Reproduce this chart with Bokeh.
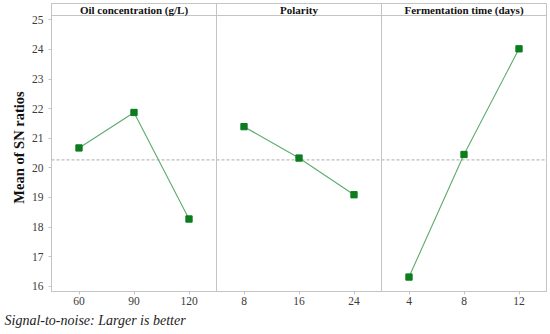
from bokeh.plotting import figure
from bokeh.models import Span, Label, FixedTicker, Range1d, ColumnDataSource, Title
from bokeh.embed import file_html
from bokeh.resources import INLINE

# ---- data ----
factors = ["Oil concentration (g/L)", "Polarity", "Fermentation time (days)"]
oil_levels = ["60", "90", "120"]
oil_sn = [20.67, 21.87, 18.27]
pol_levels = ["8", "16", "24"]
pol_sn = [21.39, 20.33, 19.09]
ferm_levels = ["4", "8", "12"]
ferm_sn = [16.31, 20.45, 24.02]
y_ticks = [16, 17, 18, 19, 20, 21, 22, 23, 24, 25]
footer = "Signal-to-noise: Larger is better"

all_levels = [oil_levels, pol_levels, ferm_levels]
all_sn = [oil_sn, pol_sn, ferm_sn]
grand_mean = sum(sum(s) for s in all_sn) / sum(len(s) for s in all_sn)

SERIF = "Liberation Serif"
MARK = "#0b7d1e"
LINE = "#5dab6c"
GRID = "#c4c4c4"

p = figure(width=550, height=334, output_backend="svg", toolbar_location=None,
           x_range=Range1d(-0.5, 8.5), y_range=Range1d(15.821, 25.551),
           min_border_left=51, min_border_right=4, min_border_top=3, min_border_bottom=43)
p.xgrid.visible = False
p.ygrid.visible = False
p.outline_line_color = GRID
p.outline_line_width = 1
p.background_fill_color = "white"
p.border_fill_color = "white"

overrides = {}
ticks = []
for i, (lv, sn) in enumerate(zip(all_levels, all_sn)):
    xs = [i * 3 + j for j in range(len(lv))]
    for x, l in zip(xs, lv):
        overrides[x] = l
        ticks.append(x)
    src = ColumnDataSource(dict(x=xs, y=sn))
    p.line("x", "y", source=src, line_color=LINE, line_width=1.1)
    p.scatter("x", "y", source=src, marker="square", size=6.3,
              fill_color=MARK, line_color=MARK)

# grand mean reference line
p.add_layout(Span(location=grand_mean, dimension="width", line_color="#ababab",
                  line_dash="3 2", line_width=1, level="underlay"))

# panel dividers
for b in [2.5, 5.5]:
    p.add_layout(Span(location=b, dimension="height", line_color=GRID, line_width=1))

# header strip line
p.add_layout(Span(location=25.145, dimension="width", line_color=GRID, line_width=1))

for i, f in enumerate(factors):
    p.add_layout(Label(x=i * 3 + 1, y=25.33, text=f, text_font=SERIF,
                       text_font_style="bold", text_font_size="11px",
                       text_align="center", text_baseline="middle",
                       text_color="#111111"))

p.xaxis.ticker = FixedTicker(ticks=ticks)
p.xaxis.major_label_overrides = overrides
p.yaxis.ticker = FixedTicker(ticks=y_ticks)
for ax in (p.xaxis, p.yaxis):
    ax.axis_line_color = GRID
    ax.major_tick_line_color = GRID
    ax.minor_tick_line_color = None
    ax.major_tick_in = 0
    ax.major_tick_out = 3
    ax.major_label_text_font = SERIF
    ax.major_label_text_font_size = "11.5px"
    ax.major_label_text_color = "#3a3a3a"
p.xaxis.major_label_standoff = 2
p.yaxis.major_label_standoff = 5

p.yaxis.axis_label = "Mean of SN ratios"
p.yaxis.axis_label_text_font = SERIF
p.yaxis.axis_label_text_font_style = "bold"
p.yaxis.axis_label_text_font_size = "14.5px"
p.yaxis.axis_label_text_color = "#111111"
p.yaxis.axis_label_standoff = 2

p.add_layout(Title(text=footer, align="left", offset=-47, standoff=7,
                   text_font=SERIF, text_font_style="italic", text_font_size="14px",
                   text_color="#222222"), "below")

open("out.html", "w").write(file_html(p, INLINE))
